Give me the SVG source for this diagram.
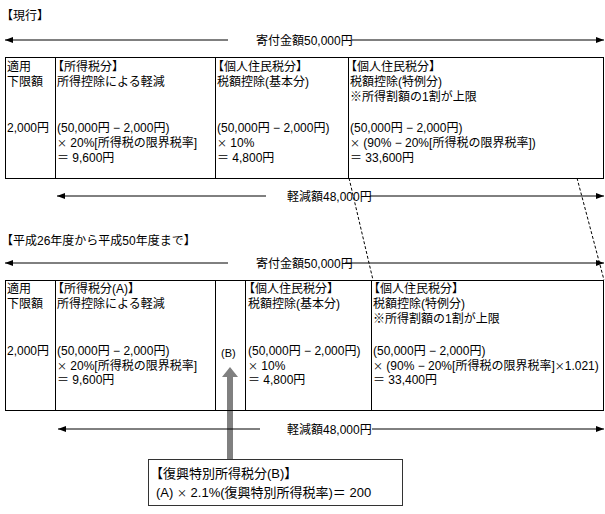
<svg xmlns="http://www.w3.org/2000/svg" width="605" height="514" viewBox="0 0 605 514">
<defs>
<marker id="ah" viewBox="0 0 8 6" refX="8" refY="3" markerWidth="8" markerHeight="6" markerUnits="userSpaceOnUse" orient="auto-start-reverse"><path d="M0,0 L8,3 L0,6 z" fill="#000"/></marker>
<style>
text{font-family:"Liberation Sans","Noto Sans CJK JP",sans-serif;font-size:12px;fill:#000}
.x{font-family:"Noto Sans CJK JP",sans-serif;font-size:10px}
.div{stroke:#000;stroke-width:1}
.arr{stroke:#000;stroke-width:1;fill:none}
.dash{stroke:#000;stroke-width:1;stroke-dasharray:3 2;fill:none}
.big{font-size:13px}
</style>
</defs>
<rect width="605" height="514" fill="#fff"/>
<text x="1" y="20">【現行】</text>
<text x="1" y="245">【平成26年度から平成50年度まで】</text>

<g id="connectors">
<path class="dash" d="M349,178 L373,280"/>
<path class="dash" d="M577,178 L604,280"/>
<path d="M227,377 L233,377 L233,459 L227,459 z M222,377 L230,367 L238,377 z" fill="#808080"/>
<line class="arr" x1="228" y1="40" x2="5" y2="40" marker-end="url(#ah)"/>
<line class="arr" x1="352" y1="40" x2="604" y2="40" marker-end="url(#ah)"/>
<line class="arr" x1="266" y1="196" x2="57" y2="196" marker-end="url(#ah)"/>
<line class="arr" x1="370" y1="196" x2="604" y2="196" marker-end="url(#ah)"/>
<line class="arr" x1="228" y1="263" x2="5" y2="263" marker-end="url(#ah)"/>
<line class="arr" x1="345" y1="263" x2="604" y2="263" marker-end="url(#ah)"/>
<line class="arr" x1="260" y1="429" x2="58" y2="429" marker-end="url(#ah)" stroke="#444"/>
<line class="arr" x1="372" y1="429" x2="604" y2="429" marker-end="url(#ah)" stroke="#444"/>
</g>
<text x="256" y="45">寄付金額50,000円</text>
<text x="287" y="201">軽減額48,000円</text>
<text x="256" y="268">寄付金額50,000円</text>
<text x="287" y="434">軽減額48,000円</text>

<g id="box-current">
<rect x="5.5" y="57.5" width="598" height="121" style="fill:none;stroke:#000;stroke-width:1"/>
<line class="div" x1="55.5" y1="57.5" x2="55.5" y2="178.5"/>
<line class="div" x1="215.5" y1="57.5" x2="215.5" y2="178.5"/>
<line class="div" x1="348.5" y1="57.5" x2="348.5" y2="178.5"/>
<text x="7" y="71">適用</text>
<text x="7" y="86">下限額</text>
<text x="7" y="132">2,000円</text>
<text x="52" y="71">【所得税分】</text>
<text x="57" y="86">所得控除による軽減</text>
<text x="57" y="132">(50,000円 − 2,000円)</text>
<text x="57" y="147"><tspan class="x">×</tspan> 20%[所得税の限界税率]</text>
<text x="57" y="162">＝ 9,600円</text>
<text x="212" y="71">【個人住民税分】</text>
<text x="217" y="86">税額控除(基本分)</text>
<text x="217" y="132">(50,000円 − 2,000円)</text>
<text x="217" y="147"><tspan class="x">×</tspan> 10%</text>
<text x="217" y="162">＝ 4,800円</text>
<text x="345" y="71">【個人住民税分】</text>
<text x="350" y="86">税額控除(特例分)</text>
<text x="350" y="101">※所得割額の1割が上限</text>
<text x="350" y="132">(50,000円 − 2,000円)</text>
<text x="350" y="147"><tspan class="x">×</tspan> (90% − 20%[所得税の限界税率])</text>
<text x="350" y="162">＝ 33,600円</text>
</g>

<g id="box-new">
<rect x="5.5" y="280.5" width="598" height="130" style="fill:none;stroke:#000;stroke-width:1"/>
<line class="div" x1="55.5" y1="280.5" x2="55.5" y2="410.5"/>
<line class="div" x1="215.5" y1="280.5" x2="215.5" y2="410.5"/>
<line class="div" x1="245.5" y1="280.5" x2="245.5" y2="410.5"/>
<line class="div" x1="371.5" y1="280.5" x2="371.5" y2="410.5"/>
<text x="7" y="293">適用</text>
<text x="7" y="308">下限額</text>
<text x="7" y="355">2,000円</text>
<text x="52" y="293">【所得税分(A)】</text>
<text x="57" y="308">所得控除による軽減</text>
<text x="57" y="355">(50,000円 − 2,000円)</text>
<text x="57" y="370"><tspan class="x">×</tspan> 20%[所得税の限界税率]</text>
<text x="57" y="384">＝ 9,600円</text>
<text x="221" y="357" style="font-size:11px">(B)</text>
<text x="243" y="293">【個人住民税分】</text>
<text x="248" y="308">税額控除(基本分)</text>
<text x="248" y="355">(50,000円 − 2,000円)</text>
<text x="248" y="370"><tspan class="x">×</tspan> 10%</text>
<text x="248" y="384">＝ 4,800円</text>
<text x="368" y="293">【個人住民税分】</text>
<text x="373" y="308">税額控除(特例分)</text>
<text x="373" y="323">※所得割額の1割が上限</text>
<text x="373" y="355">(50,000円 − 2,000円)</text>
<text x="373" y="370"><tspan class="x">×</tspan> (90% − 20%[所得税の限界税率]<tspan class="x">×</tspan>1.021)</text>
<text x="373" y="384">＝ 33,400円</text>
</g>

<g id="box-reconstruction">
<rect x="148.5" y="459.5" width="254" height="46" style="fill:#fff;stroke:#333;stroke-width:1"/>
<text class="big" x="150" y="478">【復興特別所得税分(B)】</text>
<text class="big" x="156" y="497">(A) <tspan class="x">×</tspan> 2.1%(復興特別所得税率)＝ 200</text>
</g>
</svg>
